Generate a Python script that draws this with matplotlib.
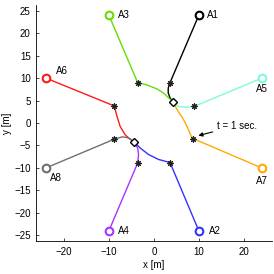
import numpy as np
import matplotlib
matplotlib.use('Agg')
import matplotlib.pyplot as plt

plt.rcParams['font.family'] = ['Liberation Sans', 'DejaVu Sans']

# path of each agent: start, position at t = 1 sec (star), then curve to the meeting point
names = ['A1', 'A2', 'A3', 'A4', 'A5', 'A6', 'A7', 'A8']
colors = ['#000000', '#3333ff', '#66dd00', '#aa33ff', '#7ffadc', '#ff1a1a', '#ffaa00', '#707070']

path_x = [
    [10, 3.6, 3.2, 3.2, 3.6, 4.3],
    [10, 3.6, 1.0, -1.2, -3.0, -4.4],
    [-10, -3.6, -1.6, 0.7, 2.1, 3.2, 4.3],
    [-10, -3.6, -3.4, -3.6, -4.4],
    [24, 9.0, 7.0, 5.5, 4.3],
    [-24, -8.8, -8.2, -7.5, -6.4, -5.3, -4.4],
    [24, 8.8, 8.3, 7.7, 7.0, 6.3, 5.5, 4.3],
    [-24, -8.8, -7.1, -6.0, -5.0, -4.4],
]
path_y = [
    [24, 9.0, 7.8, 6.7, 5.6, 4.6],
    [-24, -8.8, -8.1, -7.0, -5.6, -4.2],
    [24, 9.0, 8.5, 7.6, 6.7, 5.7, 4.6],
    [-24, -8.9, -7.0, -5.6, -4.2],
    [10, 3.7, 3.5, 3.7, 4.6],
    [10, 3.8, 1.5, -0.75, -2.6, -3.6, -4.2],
    [-10, -3.5, -2.9, -1.5, 0.0, 1.3, 2.4, 4.6],
    [-10, -3.6, -3.1, -3.2, -3.7, -4.2],
]

label_x = [11.9, 12.2, -7.9, -7.9, 22.8, -21.7, 22.8, -23.2]
label_y = [24, -24, 24, -24, 7.6, 11.5, -13, -12.3]

meet_x = [4.3, -4.4]
meet_y = [4.6, -4.2]

fig = plt.figure(figsize=(2.74, 2.74), dpi=100)
ax = fig.add_axes([0.130, 0.120, 0.863, 0.862])

for i in range(len(names)):
    ax.plot(path_x[i], path_y[i], '-', color=colors[i], lw=1.0, zorder=2)
    ax.plot(path_x[i][0], path_y[i][0], 'o', mfc='white', mec=colors[i], ms=5.5, mew=1.5, zorder=4)
    ax.plot(path_x[i][1], path_y[i][1], marker=(8, 2, 0), color='#222222', ms=4.5, mew=0.8, zorder=4)
    ax.text(label_x[i], label_y[i], names[i], fontsize=7, ha='left', va='center')

ax.plot(meet_x, meet_y, 'D', mfc='white', mec='black', ms=4.5, mew=1.0, zorder=5)

ax.annotate('t = 1 sec.', xy=(9.9, -2.8), xytext=(14.0, -0.6), fontsize=7,
            va='center', ha='left',
            arrowprops=dict(arrowstyle='-|>', color='black', lw=0.8,
                            mutation_scale=6, shrinkA=1, shrinkB=0))

ax.set_xlim(-26.3, 26.3)
ax.set_ylim(-26.3, 26.3)
ax.set_xticks([-20, -10, 0, 10, 20])
ax.set_yticks([-25, -20, -15, -10, -5, 0, 5, 10, 15, 20, 25])
ax.set_yticklabels(['\u221225', '\u221220', '\u221215', '\u221210', '\u22125', '0', '5', '10', '15', '20', '25'])
ax.set_xticklabels(['\u221220', '\u221210', '0', '10', '20'])
ax.tick_params(direction='in', length=2, width=0.5, labelsize=7)
ax.tick_params(axis='x', pad=4.2)
ax.tick_params(axis='y', pad=3.6)
ax.spines['top'].set_visible(False)
ax.spines['right'].set_visible(False)
for s in ['left', 'bottom']:
    ax.spines[s].set_linewidth(0.6)
ax.set_xlabel('x [m]', fontsize=7, labelpad=2.5)
ax.set_ylabel('y [m]', fontsize=7, labelpad=1.5)

fig.savefig('out.png', dpi=100)
